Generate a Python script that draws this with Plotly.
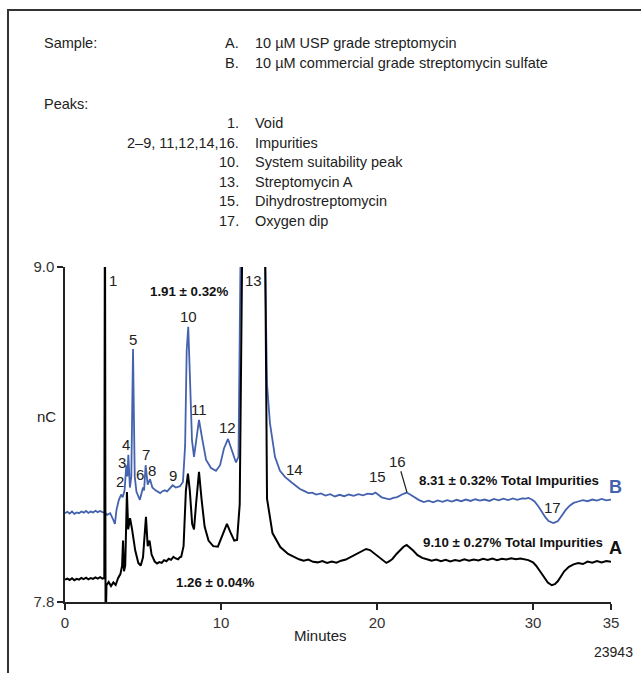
import plotly.graph_objects as go

# ---- chromatogram data (minutes, nC) ----
# Trace A: 10 uM USP grade streptomycin
time_a = [0.0, 0.15, 0.3, 0.45, 0.6, 0.75, 0.9, 1.05, 1.2, 1.35, 1.5, 1.65, 1.8, 1.95,
          2.1, 2.25, 2.4, 2.52, 2.56, 2.6, 2.66, 2.8, 2.95, 3.1, 3.25, 3.4, 3.55, 3.66,
          3.72, 3.78, 3.86, 3.97, 4.05, 4.17, 4.3, 4.5, 4.7, 4.85, 5.0, 5.1, 5.19, 5.3,
          5.42, 5.55, 5.75, 5.9, 6.05, 6.2, 6.35, 6.5, 6.65, 6.8, 6.95, 7.1, 7.25, 7.35,
          7.45, 7.6, 7.75, 7.88, 8.0, 8.15, 8.27, 8.4, 8.59, 8.75, 8.95, 9.2, 9.5, 9.8,
          10.1, 10.38, 10.6, 10.85, 11.03, 11.2, 11.4, 12.8, 12.95, 13.3, 13.8, 14.3,
          15.0, 15.3, 15.6, 15.9, 16.2, 16.5, 16.8, 17.1, 17.4, 17.7, 18.0, 18.2, 18.5,
          18.8, 19.05, 19.3, 19.55, 19.8, 20.05, 20.3, 20.6, 20.8, 21.0, 21.25, 21.5,
          21.7, 21.9, 22.1, 22.3, 22.6, 22.9, 23.2, 23.5, 23.8, 24.1, 24.4, 24.7, 25.0,
          25.3, 25.6, 25.9, 26.2, 26.5, 26.8, 27.1, 27.4, 27.7, 28.0, 28.3, 28.6, 28.9,
          29.2, 29.5, 29.7, 30.0, 30.2, 30.45, 30.7, 30.95, 31.2, 31.4, 31.6, 31.8, 32.0,
          32.3, 32.6, 32.9, 33.2, 33.5, 33.8, 34.1, 34.4, 34.7, 35.0]
signal_a = [7.880, 7.884, 7.879, 7.885, 7.878, 7.883, 7.880, 7.886, 7.882, 7.887, 7.881,
            7.886, 7.883, 7.888, 7.884, 7.889, 7.884, 7.886, 9.40, 7.70, 7.860, 7.872,
            7.857, 7.870, 7.861, 7.885, 7.900, 7.930, 8.020, 7.910, 7.930, 8.194, 8.060,
            8.100, 8.060, 7.985, 7.940, 7.930, 7.960, 8.040, 8.105, 8.000, 8.020, 7.970,
            7.945, 7.938, 7.943, 7.940, 7.950, 7.946, 7.955, 7.951, 7.962, 7.956, 7.953,
            7.960, 7.962, 8.000, 8.200, 8.260, 8.200, 8.080, 8.060, 8.150, 8.266, 8.170,
            8.070, 8.020, 8.000, 7.998, 8.040, 8.080, 8.050, 8.020, 8.022, 8.150, 9.30,
            9.30, 8.170, 8.047, 7.997, 7.972, 7.953, 7.948, 7.952, 7.944, 7.942, 7.947,
            7.940, 7.945, 7.941, 7.948, 7.952, 7.958, 7.966, 7.978, 7.985, 7.990, 7.986,
            7.975, 7.962, 7.950, 7.940, 7.946, 7.955, 7.972, 7.988, 7.998, 8.004, 7.996,
            7.985, 7.968, 7.958, 7.953, 7.948, 7.952, 7.946, 7.951, 7.945, 7.950, 7.947,
            7.953, 7.948, 7.952, 7.949, 7.955, 7.951, 7.956, 7.950, 7.955, 7.952, 7.957,
            7.953, 7.956, 7.951, 7.950, 7.942, 7.930, 7.910, 7.890, 7.870, 7.860, 7.864,
            7.875, 7.893, 7.910, 7.926, 7.935, 7.940, 7.936, 7.945, 7.941, 7.947, 7.942,
            7.947, 7.944]

# Trace B: 10 uM commercial grade streptomycin sulfate
time_b = [0.0, 0.15, 0.3, 0.45, 0.6, 0.75, 0.9, 1.05, 1.2, 1.35, 1.5, 1.65, 1.8, 1.95,
          2.1, 2.25, 2.4, 2.55, 2.7, 2.9, 3.05, 3.2, 3.3, 3.45, 3.6, 3.7, 3.82, 3.93, 4.0,
          4.06, 4.16, 4.25, 4.36, 4.47, 4.58, 4.8, 5.0, 5.07, 5.17, 5.3, 5.45, 5.6, 5.8,
          5.95, 6.1, 6.25, 6.4, 6.55, 6.7, 6.9, 7.1, 7.25, 7.37, 7.56, 7.7, 7.8, 7.9, 8.0,
          8.14, 8.27, 8.4, 8.59, 8.78, 9.04, 9.36, 9.68, 9.94, 10.19, 10.45, 10.7, 10.96,
          11.12, 11.3, 12.75, 12.95, 13.14, 13.46, 13.78, 14.1, 14.55, 15.06, 15.35, 15.6,
          15.85, 16.1, 16.4, 16.7, 17.0, 17.3, 17.6, 17.9, 18.2, 18.5, 18.8, 19.1, 19.4,
          19.7, 19.9, 20.1, 20.3, 20.55, 20.8, 21.05, 21.3, 21.6, 21.9, 22.15, 22.4, 22.7,
          23.0, 23.3, 23.6, 23.9, 24.2, 24.5, 24.8, 25.1, 25.4, 25.7, 26.0, 26.3, 26.6,
          26.9, 27.2, 27.5, 27.8, 28.1, 28.4, 28.7, 29.0, 29.3, 29.55, 29.7, 29.9, 30.1,
          30.35, 30.6, 30.8, 31.0, 31.15, 31.3, 31.45, 31.6, 31.85, 32.1, 32.35, 32.6,
          32.9, 33.2, 33.5, 33.8, 34.1, 34.4, 34.7, 35.0]
signal_b = [8.118, 8.123, 8.117, 8.124, 8.116, 8.121, 8.118, 8.124, 8.120, 8.126, 8.119,
            8.124, 8.121, 8.127, 8.122, 8.126, 8.122, 8.120, 8.112, 8.118, 8.100, 8.080,
            8.130, 8.165, 8.185, 8.175, 8.200, 8.290, 8.250, 8.327, 8.210, 8.250, 8.706,
            8.250, 8.195, 8.166, 8.210, 8.200, 8.290, 8.220, 8.240, 8.210, 8.200, 8.194,
            8.190, 8.197, 8.200, 8.196, 8.205, 8.218, 8.210, 8.214, 8.215, 8.230, 8.360,
            8.700, 8.786, 8.620, 8.380, 8.320, 8.380, 8.452, 8.390, 8.310, 8.280, 8.270,
            8.290, 8.350, 8.384, 8.340, 8.300, 8.320, 9.30, 9.30, 8.580, 8.440, 8.320,
            8.270, 8.248, 8.227, 8.205, 8.197, 8.190, 8.192, 8.185, 8.189, 8.181, 8.186,
            8.178, 8.184, 8.179, 8.185, 8.180, 8.186, 8.182, 8.188, 8.186, 8.192, 8.184,
            8.175, 8.171, 8.168, 8.173, 8.176, 8.185, 8.192, 8.184, 8.175, 8.165, 8.158,
            8.163, 8.157, 8.164, 8.159, 8.165, 8.160, 8.166, 8.161, 8.167, 8.162, 8.168,
            8.163, 8.167, 8.162, 8.169, 8.164, 8.170, 8.165, 8.171, 8.166, 8.171, 8.170,
            8.173, 8.168, 8.160, 8.142, 8.120, 8.103, 8.090, 8.085, 8.083, 8.086, 8.090,
            8.110, 8.130, 8.145, 8.155, 8.160, 8.165, 8.161, 8.167, 8.163, 8.169, 8.164,
            8.167]

# peak numbers and where they sit (minutes, nC)
peak_labels = ["1", "2", "3", "4", "5", "6", "7", "8", "9", "10", "11", "12", "13",
               "14", "15", "17"]
peak_label_t = [3.08, 3.53, 3.65, 3.92, 4.33, 4.81, 5.17, 5.58, 6.92, 7.9, 8.6, 10.43,
                12.08, 14.72, 20.0, 31.28]
peak_label_v = [8.95, 8.23, 8.30, 8.363, 8.74, 8.257, 8.33, 8.27, 8.253, 8.822, 8.49,
                8.425, 8.95, 8.275, 8.248, 8.137]

x_ticks = [0, 10, 20, 30, 35]
y_ticks = [7.8, 9.0]
y_ticktext = ["7.8", "9.0"]

sample_keys = ["A.", "B."]
sample_names = ["10 µM USP grade streptomycin",
                "10 µM commercial grade streptomycin sulfate"]
peak_keys = ["1.", "2–9, 11,12,14,16.", "10.", "13.", "15.", "17."]
peak_names = ["Void", "Impurities", "System suitability peak", "Streptomycin A",
              "Dihydrostreptomycin", "Oxygen dip"]

BLUE = "#4462AE"
INK = "#222222"
FONT = "Liberation Sans, Arial, sans-serif"

# figure geometry in pixels
W, H = 641, 673
L, R, T, B = 65, 30, 267, 71
PW, PH = W - L - R, H - T - B


def px(x):
    return (x - L) / PW


def py(y):
    return (H - B - y) / PH


fig = go.Figure()
fig.add_trace(go.Scatter(x=time_b, y=signal_b, mode="lines",
                         line=dict(color=BLUE, width=1.8), hoverinfo="skip"))
fig.add_trace(go.Scatter(x=time_a, y=signal_a, mode="lines",
                         line=dict(color="#000000", width=2), hoverinfo="skip"))

ann = []
label_font = dict(family=FONT, size=15, color=INK)
for lab, t, v in zip(peak_labels, peak_label_t, peak_label_v):
    ann.append(dict(x=t, y=v, xref="x", yref="y", text=lab, showarrow=False,
                    font=label_font))
# peak 16 with a leader line to its apex
ann.append(dict(x=21.92, y=8.193, xref="x", yref="y", text="16", showarrow=True,
                arrowhead=0, arrowwidth=1.2, arrowcolor=INK, ax=-9, ay=-31,
                font=label_font))

bold = dict(family=FONT, size=13.3, color="#111111")
ann += [
    dict(x=7.95, y=8.911, xref="x", yref="y", text="<b>1.91 ± 0.32%</b>",
         showarrow=False, font=bold),
    dict(x=9.62, y=7.869, xref="x", yref="y", text="<b>1.26 ± 0.04%</b>",
         showarrow=False, font=bold),
    dict(x=28.43, y=8.237, xref="x", yref="y",
         text="<b>8.31 ± 0.32% Total Impurities</b>", showarrow=False, font=bold),
    dict(x=28.7, y=8.012, xref="x", yref="y",
         text="<b>9.10 ± 0.27% Total Impurities</b>", showarrow=False, font=bold),
    dict(x=px(615), y=py(487), xref="paper", yref="paper", text="<b>B</b>",
         xanchor="center", yanchor="middle", showarrow=False,
         font=dict(family=FONT, size=18, color=BLUE)),
    dict(x=px(615), y=py(548), xref="paper", yref="paper", text="<b>A</b>",
         xanchor="center", yanchor="middle", showarrow=False,
         font=dict(family=FONT, size=18, color="#111111")),
]

text_font = dict(family=FONT, size=15, color=INK)
head_font = dict(family=FONT, size=14.5, color=INK)
ann += [
    dict(x=px(46), y=py(416), xref="paper", yref="paper", text="nC", showarrow=False,
         xanchor="center", yanchor="middle", font=text_font),
    dict(x=px(320), y=py(635), xref="paper", yref="paper", text="Minutes",
         xanchor="center", yanchor="middle", showarrow=False, font=text_font),
    dict(x=px(613), y=py(652), xref="paper", yref="paper", text="23943",
         xanchor="center", yanchor="middle", showarrow=False,
         font=dict(family=FONT, size=14, color=INK)),
]

# header key
KEY_X, NAME_X = 241, 253
for label, yy in (("Sample:", 43), ("Peaks:", 104)):
    ann.append(dict(x=px(42), y=py(yy), xref="paper", yref="paper", text=label,
                    xanchor="left", yanchor="middle", showarrow=False, font=head_font))
rows = [(k, n, 43 + 20 * i) for i, (k, n) in enumerate(zip(sample_keys, sample_names))]
rows += [(k, n, 123 + 19.6 * i) for i, (k, n) in enumerate(zip(peak_keys, peak_names))]
for k, n, yy in rows:
    ann.append(dict(x=px(KEY_X), y=py(yy), xref="paper", yref="paper", text=k,
                    xanchor="right", yanchor="middle", showarrow=False, font=head_font))
    ann.append(dict(x=px(NAME_X), y=py(yy), xref="paper", yref="paper", text=n,
                    xanchor="left", yanchor="middle", showarrow=False, font=head_font))

# outer frame (left and top edges)
shapes = [
    dict(type="line", xref="paper", yref="paper", x0=px(8), x1=px(8), y0=py(10),
         y1=py(H + 5), line=dict(color="#333333", width=2)),
    dict(type="line", xref="paper", yref="paper", x0=px(7), x1=px(W + 5), y0=py(10),
         y1=py(10), line=dict(color="#333333", width=2)),
]

fig.update_layout(
    width=W, height=H,
    margin=dict(l=L, r=R, t=T, b=B),
    paper_bgcolor="white", plot_bgcolor="white",
    showlegend=False,
    annotations=ann, shapes=shapes,
    font=dict(family=FONT, size=15, color=INK),
    xaxis=dict(range=[0, 35], tickvals=x_ticks, ticks="outside", ticklen=6,
               tickwidth=1.5, tickcolor="#222222", showline=True, linecolor="#222222",
               linewidth=1.5, showgrid=False, zeroline=False,
               tickfont=dict(family=FONT, size=15, color="#333333")),
    yaxis=dict(range=[7.8, 9.0], tickvals=y_ticks, ticktext=y_ticktext,
               ticks="outside", ticklen=6, tickwidth=1.5, tickcolor="#222222",
               showline=True, linecolor="#222222", linewidth=1.5, showgrid=False,
               zeroline=False, tickfont=dict(family=FONT, size=15, color="#333333")),
)

fig.write_html("out.html")
